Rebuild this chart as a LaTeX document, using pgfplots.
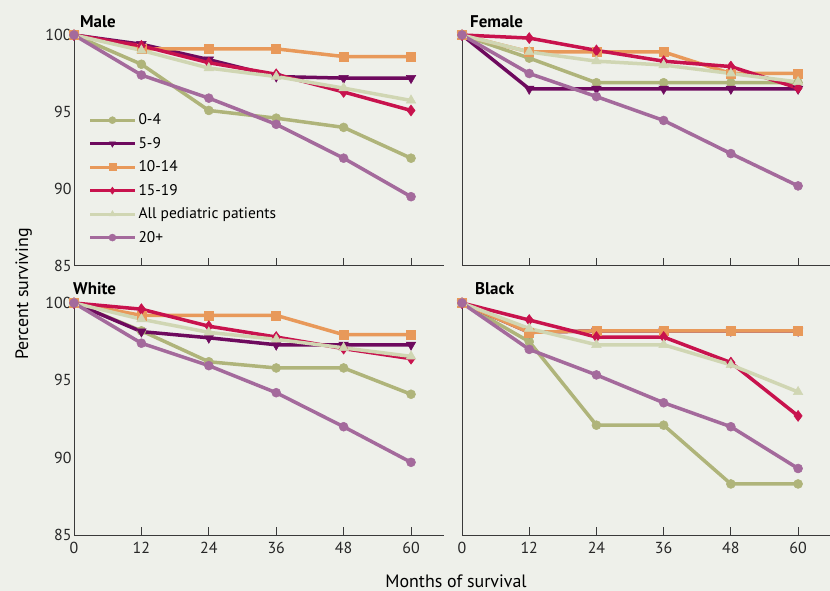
\documentclass[border=0pt]{standalone}
\usepackage{pgfplots}
\usepackage{pgfplotstable}
\pgfplotsset{compat=1.18}
\usepackage{fontspec}
\setmainfont{PT Sans}
\setsansfont{PT Sans}

\definecolor{bgc}{HTML}{EEF0EA}
\definecolor{axc}{HTML}{3A3A3A}
\definecolor{cA}{HTML}{AFB47A}
\definecolor{cB}{HTML}{6E0A5E}
\definecolor{cC}{HTML}{E8995A}
\definecolor{cD}{HTML}{C8124D}
\definecolor{cE}{HTML}{D0D6B3}
\definecolor{cF}{HTML}{A46A9C}

\pgfplotstableread{
x a b c d e f
0 100 100 100 100 100 100
12 98.1 99.4 99.1 99.3 99.0 97.4
24 95.1 98.4 99.1 98.2 97.85 95.9
36 94.6 97.3 99.1 97.45 97.3 94.2
48 94.0 97.2 98.6 96.3 96.55 92.0
60 92.0 97.2 98.6 95.1 95.75 89.5
}\male
\pgfplotstableread{
x a b c d e f
0 100 100 100 100 100 100
12 98.5 96.5 98.9 99.8 98.9 97.5
24 96.9 96.5 98.9 99.0 98.3 96.0
36 96.9 96.5 98.9 98.3 98.05 94.45
48 96.9 96.5 97.5 97.95 97.5 92.3
60 96.9 96.5 97.5 96.55 96.95 90.2
}\female
\pgfplotstableread{
x a b c d e f
0 100 100 100 100 100 100
12 98.2 98.15 99.2 99.6 98.95 97.4
24 96.2 97.75 99.2 98.5 98.1 95.95
36 95.8 97.3 99.2 97.8 97.65 94.2
48 95.8 97.3 97.95 97.05 97.1 92.0
60 94.1 97.3 97.95 96.4 96.55 89.7
}\white
\pgfplotstableread{
x a b c d e f
0 100 100 100 100 100 100
12 97.5 98.1 98.1 98.9 98.35 97.0
24 92.1 98.2 98.2 97.8 97.3 95.35
36 92.1 98.2 98.2 97.8 97.3 93.55
48 88.3 98.2 98.2 96.15 96.0 92.0
60 88.3 98.2 98.2 92.7 94.25 89.3
}\black

\pgfplotsset{
  panel/.style={
    scale only axis, xmin=0, ymin=85, ymax=100,
    axis lines*=left, clip=false,
    xtick={0,12,24,36,48,60}, ytick={85,90,95,100},
    xtick align=inside, major tick length=8bp,
    ytick style={draw=none},
    xtick style={draw=axc, line width=1bp},
    axis line style={draw=axc, line width=1bp},
    tick label style={font=\fontsize{16}{16}\selectfont, text=black!85},
    xticklabel style={yshift=-4bp},
    yticklabel style={xshift=1bp},
    /pgf/number format/assume math mode=true,
    every axis plot/.append style={line width=3.5bp},
  },
  sA/.style={color=cA, mark=*, mark size=4.5bp, mark options={solid,line width=0.5bp}},
  sB/.style={color=cB, mark=triangle*, mark size=5.5bp, mark options={solid,rotate=180,line width=0.5bp}},
  sC/.style={color=cC, mark=square*, mark size=4.5bp, mark options={solid,line width=0.5bp}},
  sD/.style={color=cD, mark=diamond*, mark size=5.5bp, mark options={solid,line width=0.5bp}},
  sE/.style={color=cE, mark=triangle*, mark size=5.5bp, mark options={solid,line width=0.5bp}},
  sF/.style={color=cF, mark=*, mark size=4.5bp, mark options={solid,line width=0.5bp}},
}

\newcommand{\allseries}[1]{%
  \addplot[sA] table[x=x,y=a] {#1};
  \addplot[sB] table[x=x,y=b] {#1};
  \addplot[sC] table[x=x,y=c] {#1};
  \addplot[sD] table[x=x,y=d] {#1};
  \addplot[sE] table[x=x,y=e] {#1};
  \addplot[sF] table[x=x,y=f] {#1};
}

\begin{document}
\begin{tikzpicture}
\useasboundingbox (0,0) rectangle (830bp,591bp);
\fill[bgc] (0,0) rectangle (830bp,591bp);

% Male
\begin{axis}[panel, at={(74bp,325bp)}, anchor=south west,
  width=370bp, height=231bp, xmax=65.87, xticklabels={},
  legend image post style={xscale=2.6, line width=3bp, mark size=3.5bp,
    every mark/.append style={xscale=0.3846}},
  legend style={at={(axis cs:2.6,95.05)}, anchor=north west, draw=none, fill=none,
    font=\fontsize{15.5}{15.5}\selectfont, row sep=6bp, inner sep=0pt,
    legend cell align=left, nodes={inner sep=2.5bp}}]
  \allseries{\male}
  \legend{0-4,5-9,10-14,15-19,All pediatric patients,20+}
\end{axis}

% Female
\begin{axis}[panel, at={(462bp,325bp)}, anchor=south west,
  width=368bp, height=231bp, xmax=65.7, xticklabels={}, yticklabels={}]
  \allseries{\female}
\end{axis}

% White
\begin{axis}[panel, at={(74bp,56bp)}, anchor=south west,
  width=370bp, height=232bp, xmax=65.87]
  \allseries{\white}
\end{axis}

% Black
\begin{axis}[panel, at={(462bp,56bp)}, anchor=south west,
  width=368bp, height=232bp, xmax=65.7, yticklabels={}]
  \allseries{\black}
\end{axis}

\node[anchor=west, font=\bfseries\fontsize{17}{17}\selectfont, inner sep=0pt] at (80bp,569bp) {Male};
\node[anchor=west, font=\bfseries\fontsize{17}{17}\selectfont, inner sep=0pt] at (470bp,569bp) {Female};
\node[anchor=west, font=\bfseries\fontsize{17}{17}\selectfont, inner sep=0pt] at (73bp,302bp) {White};
\node[anchor=west, font=\bfseries\fontsize{17}{17}\selectfont, inner sep=0pt] at (475bp,302bp) {Black};
\node[rotate=90, anchor=base, font=\fontsize{18}{18}\selectfont, inner sep=0pt] at (28bp,297bp) {Percent surviving};
\node[anchor=base, font=\fontsize{18}{18}\selectfont, inner sep=0pt] at (456bp,3.5bp) {Months of survival};
\end{tikzpicture}
\end{document}
